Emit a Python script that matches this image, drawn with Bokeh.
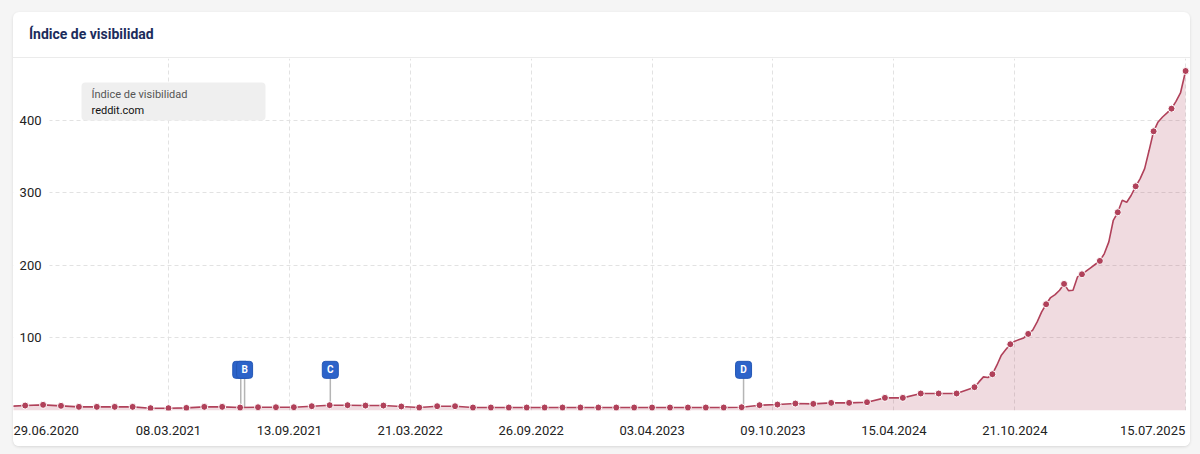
import numpy as np
import pandas as pd
from bokeh.plotting import figure
from bokeh.layouts import column
from bokeh.models import (Range1d, FixedTicker, Label, Div, BoxAnnotation,
                          ColumnDataSource, Rect)
from bokeh.core.properties import value
from bokeh.embed import file_html
from bokeh.resources import INLINE

FONT = "Roboto"
LINE = "#b0415a"
FLAG_FILL = "#2c63c9"
FLAG_EDGE = "#2457b5"
STEM = "#b5b5b5"
GRID = "#e2e2e2"
TEXT = "#222222"

# ---- data -------------------------------------------------------------
# four-weekly readings of the visibility index (marked with dots)
dot_dates = list(pd.date_range("2020-07-27", "2025-06-23", freq="28D")) + [pd.Timestamp("2025-07-15")]
dot_values = [
    6.8, 7.8, 6.4, 5.0, 5.0, 5.0, 5.0, 3.2, 3.2, 3.6, 5.0, 5.0, 4.1, 4.5, 4.5, 4.5,
    5.9, 7.3, 7.3, 6.8, 6.8,
    5.5, 4.1, 5.9, 5.9, 4.1, 4.1, 4.1, 4.1, 4.1, 4.1, 4.1, 4.1, 4.1, 4.1, 4.1, 4.1,
    4.1, 4.1, 4.1, 4.5, 7.3, 8.2, 9.6,
    9.1, 10.5, 10.5, 11.4, 17.4, 17.4, 23.4, 23.4, 23.4, 32.1, 50.0, 91.3, 105.5,
    146.4, 174.4, 187.7, 206.1,
    273.1, 308.9, 384.7, 415.9,
    467.8,
]

# weekly readings in between (line only)
week_dates = [
    "2020-07-06",
    "2024-08-26", "2024-09-02", "2024-09-09",
    "2024-09-23", "2024-09-30", "2024-10-07",
    "2024-10-21", "2024-10-28", "2024-11-04",
    "2024-11-18", "2024-11-25", "2024-12-02",
    "2024-12-16", "2024-12-23", "2024-12-30",
    "2025-01-13", "2025-01-20", "2025-01-27",
    "2025-02-10", "2025-02-17", "2025-02-24",
    "2025-03-10", "2025-03-17", "2025-03-24",
    "2025-04-07", "2025-04-14", "2025-04-21",
    "2025-05-05", "2025-05-12", "2025-05-19",
    "2025-06-02", "2025-06-09", "2025-06-16",
    "2025-06-30", "2025-07-07",
]
week_values = [
    5.9,
    39.4, 46.3, 45.4,
    62.4, 76.2, 84.0,
    95.5, 97.8, 100.0,
    110.6, 122.1, 135.9,
    155.6, 159.7, 165.7,
    165.2, 165.7, 184.1,
    192.3, 196.9, 201.5,
    216.2, 232.3, 262.1,
    289.7, 286.9, 296.6,
    319.5, 333.3, 358.5,
    397.6, 404.4, 410.0,
    426.0, 437.5,
]

tick_labels = ["29.06.2020", "08.03.2021", "13.09.2021", "21.03.2022", "26.09.2022",
               "03.04.2023", "09.10.2023", "15.04.2024", "21.10.2024", "15.07.2025"]
y_ticks = [100, 200, 300, 400]

event_letters = ["A", "B", "C", "D"]
event_dates = ["2021-06-29", "2021-07-05", "2021-11-16", "2023-08-24"]

series_name = "reddit.com"
metric_name = "Índice de visibilidad"

# ---- prepared columns ---------------------------------------------------
line_df = pd.DataFrame({
    "date": pd.to_datetime(list(dot_dates) + week_dates),
    "value": dot_values + week_values,
}).sort_values("date").reset_index(drop=True)
line_src = ColumnDataSource(line_df)
dot_src = ColumnDataSource(pd.DataFrame({"date": pd.to_datetime(dot_dates), "value": dot_values}))

to_ms = lambda ts: int(pd.Timestamp(ts).value // 10**6)
line_ms = np.array([to_ms(d) for d in line_df["date"]], dtype=float)
ev_ts = pd.to_datetime(event_dates)
ev_ms = np.array([to_ms(d) for d in ev_ts], dtype=float)
ev_base = np.interp(ev_ms, line_ms, line_df["value"].to_numpy())

tick_ts = pd.to_datetime(tick_labels, format="%d.%m.%Y")
tick_ms = [to_ms(t) for t in tick_ts]

PLOT_W, PLOT_H = 1177, 388
x_start = pd.Timestamp("2020-07-08 18:00")
x_end = pd.Timestamp("2025-07-22 16:00")
px_per_ms = PLOT_W / (to_ms(x_end) - to_ms(x_start))
FLAG_Y = 56

# the two outer date labels are pushed inwards so they sit inside the card
EDGE_HALF = 33     # half a date label, px
CARD_INSET = 13    # card offset from the page edge, px
first_pos = int(to_ms(x_start) + (EDGE_HALF - CARD_INSET) / px_per_ms)
last_pos = int(tick_ms[-1] - EDGE_HALF / px_per_ms)
axis_ticks = [first_pos] + tick_ms[1:-1] + [last_pos]
grid_ticks = tick_ms[1:]

# ---- figure -------------------------------------------------------------
p = figure(width=PLOT_W, height=PLOT_H, x_axis_type="datetime",
           x_range=Range1d(x_start, x_end), y_range=Range1d(0, 485),
           toolbar_location=None, output_backend="svg",
           min_border_left=0, min_border_right=0, min_border_top=0, min_border_bottom=36,
           outline_line_color=None, background_fill_color="white",
           border_fill_color="white", margin=0)

p.xaxis.ticker = FixedTicker(ticks=axis_ticks)
p.xgrid.ticker = FixedTicker(ticks=grid_ticks)
p.xaxis.major_label_overrides = {ms: lbl for ms, lbl in zip(axis_ticks, tick_labels)}
p.xaxis.axis_line_color = None
p.xaxis.major_tick_line_color = None
p.xaxis.minor_tick_line_color = None
p.xaxis.major_label_standoff = 9
p.xaxis.major_label_text_font = FONT
p.xaxis.major_label_text_font_size = "13px"
p.xaxis.major_label_text_color = TEXT

yt = FixedTicker(ticks=y_ticks)
p.yaxis.ticker = yt
p.ygrid.ticker = yt
p.yaxis.fixed_location = float(to_ms(x_start))
p.yaxis.major_label_standoff = -34
p.yaxis.axis_line_color = None
p.yaxis.major_tick_line_color = None
p.yaxis.minor_tick_line_color = None
p.yaxis.major_label_text_font = FONT
p.yaxis.major_label_text_font_size = "13px"
p.yaxis.major_label_text_color = TEXT

for g in (p.xgrid[0], p.ygrid[0]):
    g.grid_line_color = GRID
    g.grid_line_dash = "4 3"
    g.grid_line_width = 1

# keeps the value labels clear of the horizontal grid
p.add_layout(BoxAnnotation(left=0, right=36, left_units="screen", right_units="screen",
                           bottom=40, top=500, fill_color="white", fill_alpha=1,
                           line_color=None, level="underlay"))

# series
p.varea(x="date", y1=0, y2="value", source=line_src, fill_color=LINE, fill_alpha=0.19)
p.segment(x0=ev_ts, y0=ev_base, x1=ev_ts, y1=[FLAG_Y] * len(ev_ts),
          line_color=STEM, line_width=1.5)
p.line(x="date", y="value", source=line_src, line_color=LINE, line_width=1.6)
p.scatter(x="date", y="value", source=dot_src, size=7, fill_color=LINE,
          line_color="white", line_width=1)

# event flags
rk = {"border_radius": 3} if "border_radius" in Rect.properties() else {}
for d, letter in zip(ev_ts, event_letters):
    p.rect(x=[d], y=[FLAG_Y], width=16, height=17, width_units="screen",
           height_units="screen", fill_color=FLAG_FILL, line_color=FLAG_EDGE, **rk)
    p.text(x=[d], y=[FLAG_Y], text=[letter], text_align="center", text_baseline="middle",
           text_color="white", text_font=value(FONT), text_font_style="bold",
           text_font_size="10px")

# series key box (top left of the plot area)
key_top = PLOT_H - 36 - 24
p.add_layout(BoxAnnotation(left=68, right=252, top=key_top, bottom=key_top - 38,
                           left_units="screen", right_units="screen",
                           top_units="screen", bottom_units="screen",
                           fill_color="#efefef", fill_alpha=1, line_color=None,
                           border_radius=4))
p.add_layout(Label(x=78, y=key_top - 12, x_units="screen", y_units="screen",
                   text=metric_name, text_baseline="middle", text_font=FONT,
                   text_font_size="11px", text_color="#555555"))
p.add_layout(Label(x=78, y=key_top - 28, x_units="screen", y_units="screen",
                   text=series_name, text_baseline="middle", text_font=FONT,
                   text_font_size="11px", text_color="#111111"))

title_div = Div(
    text=("<div style=\"width:1177px;box-sizing:border-box;font-family:Roboto,sans-serif;"
          "font-weight:700;font-size:14px;color:#1b2c5c;line-height:45px;padding-left:16px;"
          "border-bottom:1px solid #ebebeb;\">" + metric_name + "</div>"),
    width=PLOT_W, height=46, margin=0)

card = column(title_div, p, margin=(12, 10, 8, 13), spacing=0,
              styles={"background-color": "#ffffff", "border-radius": "6px",
                      "overflow": "hidden",
                      "box-shadow": "0 1px 3px rgba(0,0,0,0.12)"})
page = column(card, width=1200, height=454, margin=0,
              styles={"background-color": "#f5f5f5"})

open("out.html", "w").write(file_html(page, INLINE))
